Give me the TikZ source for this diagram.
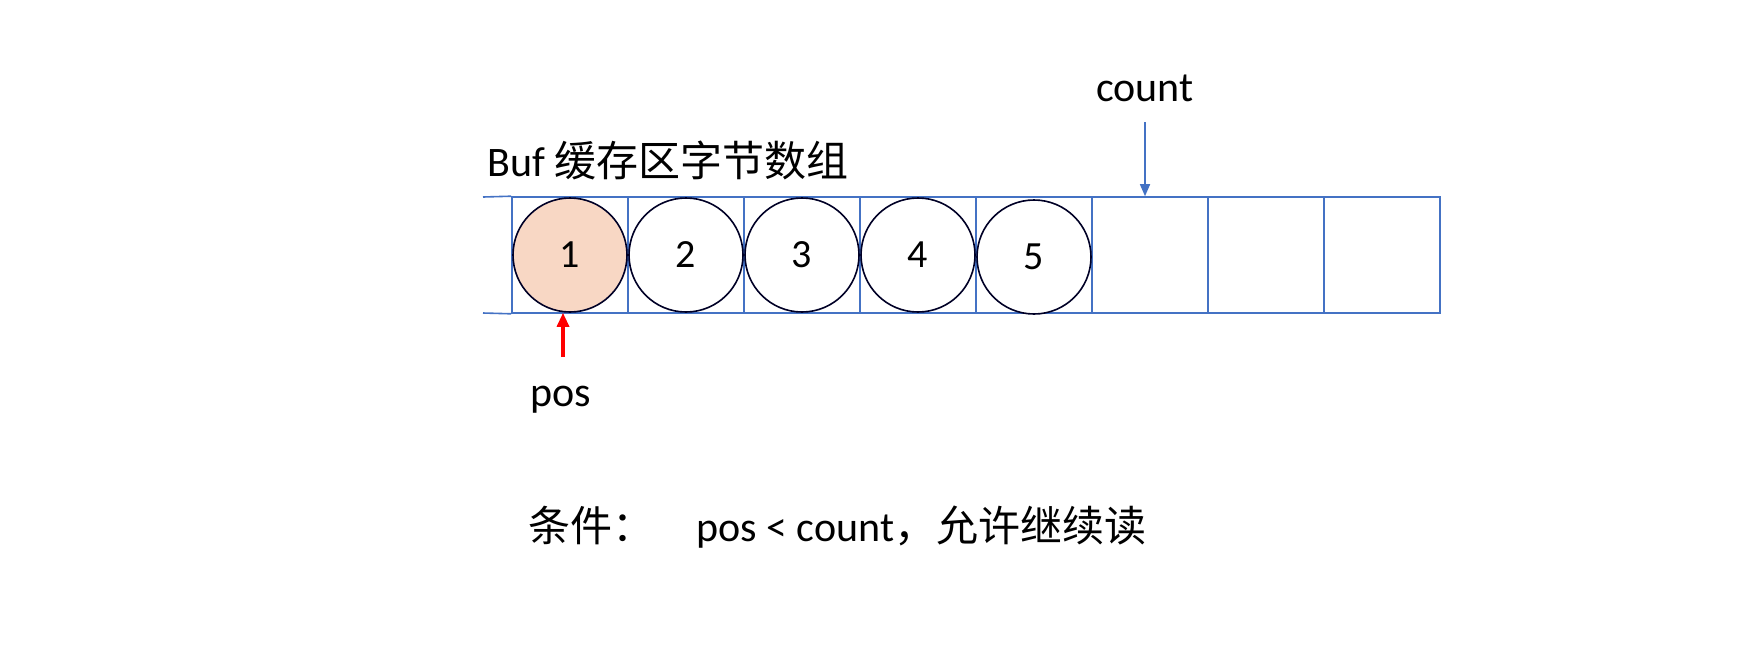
\documentclass[tikz,border=0pt]{standalone}
\usepackage{fontspec}
\setmainfont{Carlito}
\newfontfamily\cjk{Noto Sans CJK SC}
\usetikzlibrary{positioning,arrows.meta}
\definecolor{bufblue}{HTML}{4472C4}
\definecolor{peach}{HTML}{F8D7C4}

\begin{document}
\begin{tikzpicture}[x=0.5pt, y=-0.5pt,
  cellnode/.style={draw=bufblue, thick, minimum width=58pt, minimum height=58pt, inner sep=0pt},
  bytenode/.style={circle, draw=black!85!blue, thick, fill=white, minimum size=57pt, inner sep=0pt, font=\fontsize{20}{24}\selectfont},
  labelnode/.style={font=\fontsize{21}{25}\selectfont, inner sep=0pt}]
\useasboundingbox (0,0) rectangle (1748,670);

% buffer cells
\foreach \i in {1,...,8}
  \node[cellnode] (cell\i) at ({512+58+116*(\i-1)}, 255) {};
\draw[bufblue, thick] (483,197) -- (cell1.north west);
\draw[bufblue, thick] (483,313) -- (cell1.south west);

% bytes
\node[bytenode, fill=peach] (c1) at (cell1) {1};
\foreach \i in {2,...,4}
  \node[bytenode] (c\i) at (cell\i) {\i};
\node[bytenode] (c5) at ([yshift=-1pt]cell5) {5};

\node[labelnode, anchor=west] (buf) at (487,160) {Buf {\cjk 缓存区字节数组}};

% count
\node[labelnode] (count) at (1145,88) {count};
\coordinate (cnt0) at (1145,122);
\draw[bufblue, thick, -{Triangle[length=6pt,width=5pt]}] (cnt0) -- (cnt0 |- cell6.north);

% pos
\node[labelnode] (pos) at (561,400) {pos};
\coordinate (pos0) at (563,357);
\draw[red, line width=1.6pt, -{Triangle[length=7pt,width=6pt]}] (pos0) -- (pos0 |- c1.south);

\node[labelnode, anchor=west] (cond) at (528,527) {{\cjk 条件：}\quad pos < count{\cjk ，允许继续读}};
\end{tikzpicture}
\end{document}
